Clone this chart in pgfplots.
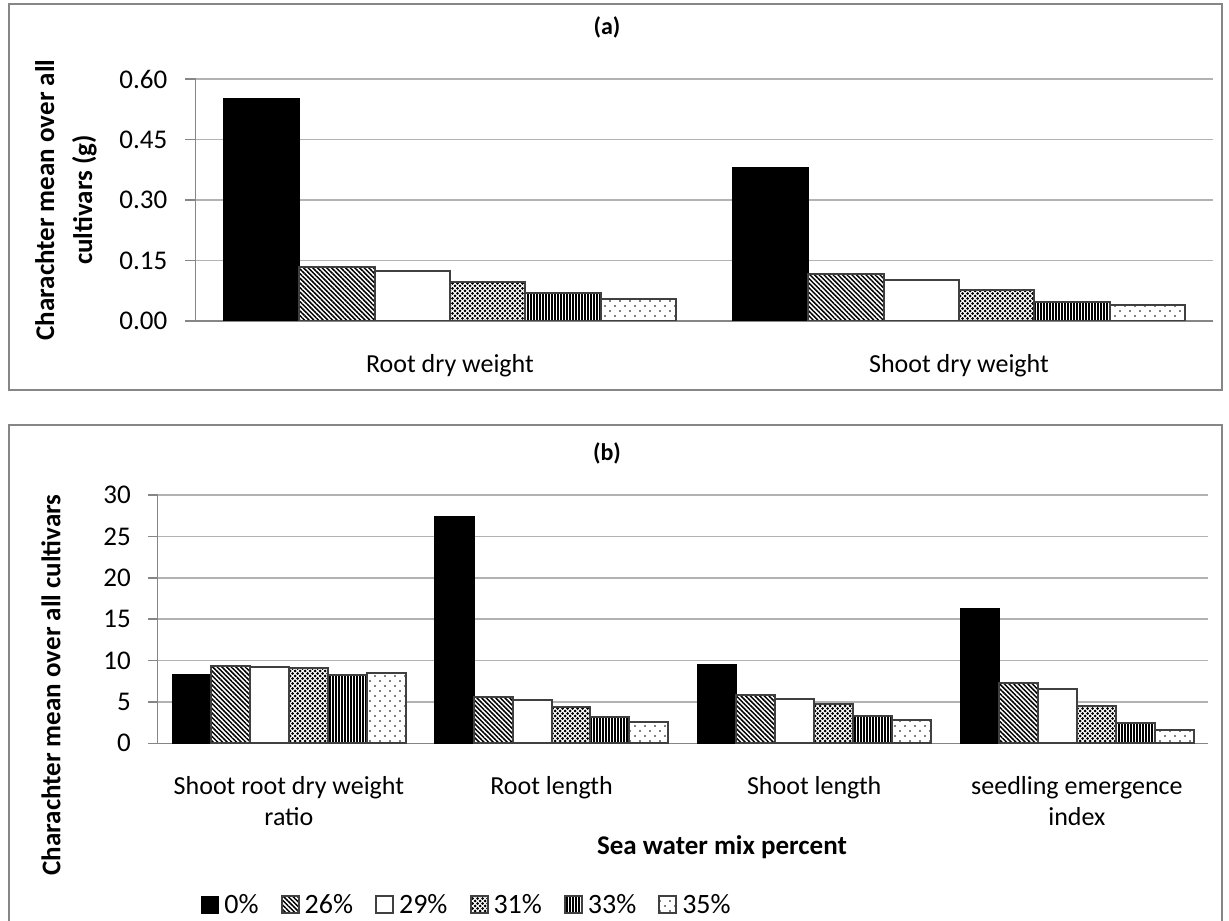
\documentclass[border=0pt]{standalone}
\usepackage{pgfplots}
\pgfplotsset{compat=1.18}
\usepackage{fontspec}
\setmainfont{Carlito}
\usetikzlibrary{patterns.meta}

\definecolor{framegray}{RGB}{134,134,134}
\definecolor{gridgray}{RGB}{178,178,178}
\definecolor{baredge}{RGB}{64,64,64}

\pgfplotsset{
  excelbar/.style={
    ybar, bar width=0.148, scale only axis, enlargelimits=false,
    axis x line*=bottom, axis y line*=left,
    axis line style={framegray, line width=1.5pt},
    ymajorgrids, grid style={gridgray, line width=1.5pt},
    tick align=outside, major tick length=10pt,
    ytick style={framegray, line width=1.5pt},
    xtick style={draw=none},
    /pgf/number format/assume math mode=true,
    yticklabel style={font=\fontsize{27}{32}\selectfont, inner sep=0pt, xshift=-18pt},
    xticklabel style={font=\fontsize{26}{31}\selectfont, align=center, anchor=north, inner sep=0pt, yshift=-23pt},
    every axis y label/.style={rotate=90, anchor=center, align=center,
      font=\bfseries\fontsize{27}{38}\selectfont},
    every axis x label/.style={anchor=center, font=\bfseries\fontsize{27}{32}\selectfont},
  },
  legbox/.style={legend image code/.code={\draw (0pt,-8.5pt) rectangle (17pt,8.5pt);}},
  s0/.style={fill=black, draw=black, line width=1.5pt, legbox},
  s1/.style={fill=white, draw=baredge, line width=2pt, legbox,
    postaction={pattern={Lines[angle=-45,distance=3.3pt,line width=1.5pt]}}},
  s2/.style={fill=white, draw=baredge, line width=2pt, legbox},
  s3/.style={fill=white, draw=baredge, line width=2pt, legbox,
    postaction={pattern={Dots[distance=5pt,radius=1.5pt]}},
    postaction={pattern={Dots[distance=5pt,radius=1.5pt,xshift=2.5pt,yshift=2.5pt]}}},
  s4/.style={fill=white, draw=baredge, line width=2pt, legbox,
    postaction={pattern={Lines[angle=90,distance=3pt,line width=1.2pt]}}},
  s5/.style={fill=white, draw=baredge, line width=2pt, legbox,
    postaction={pattern={Dots[distance=10pt,radius=0.9pt]}},
    postaction={pattern={Dots[distance=10pt,radius=0.9pt,xshift=5pt,yshift=5pt]}}},
}

\begin{document}
\begin{tikzpicture}
\useasboundingbox (0pt,0pt) rectangle (1229pt,921pt);
\fill[white] (0pt,0pt) rectangle (1229pt,921pt);
\draw[framegray, line width=1.5pt] (9pt,917pt) rectangle (1222pt,531pt);
\draw[framegray, line width=1.5pt] (9pt,-10pt) rectangle (1222pt,496pt);

% (a)
\begin{axis}[excelbar,
  at={(195.5pt,600pt)}, anchor=south west, width=1018pt, height=242pt,
  xmin=-0.5, xmax=1.5, ymin=0, ymax=0.6,
  ytick={0,0.15,0.3,0.45,0.6},
  yticklabel style={/pgf/number format/.cd, fixed, fixed zerofill, precision=2},
  xtick={0,1}, xticklabels={Root dry weight, Shoot dry weight},
  ylabel={Charachter mean over all\\cultivars (g)},
  ylabel style={at={(rel axis cs:-0.1272,0.5)}},
]
\addplot[s0, bar shift=-0.37] coordinates {(0,0.550) (1,0.379)};
\addplot[s1, bar shift=-0.222] coordinates {(0,0.135) (1,0.116)};
\addplot[s2, bar shift=-0.074] coordinates {(0,0.124) (1,0.102)};
\addplot[s3, bar shift=0.074] coordinates {(0,0.097) (1,0.078)};
\addplot[s4, bar shift=0.222] coordinates {(0,0.069) (1,0.046)};
\addplot[s5, bar shift=0.37] coordinates {(0,0.054) (1,0.040)};
\end{axis}

% (b)
\begin{axis}[excelbar,
  at={(157.6pt,177.7pt)}, anchor=south west, width=1050.6pt, height=248.3pt,
  xmin=-0.5, xmax=3.5, ymin=0, ymax=30,
  ytick={0,5,...,30},
  yticklabel style={xshift=1.3pt},
  xtick={0,1,2,3},
  xticklabels={{Shoot root dry weight\\ratio}, Root length, Shoot length, {seedling emergence\\index}},
  ylabel={Charachter mean over all cultivars},
  ylabel style={at={(rel axis cs:-0.1015,0.235)}},
  xlabel={Sea water mix percent},
  xlabel style={at={(rel axis cs:0.5372,-0.4176)}},
  legend columns=6,
  legend style={at={(rel axis cs:0.0413,-0.651)}, anchor=west, draw=none, fill=none,
    inner sep=0pt, outer sep=0pt, font=\fontsize{28}{33}\selectfont,
    column sep=3pt, /tikz/every even column/.append style={column sep=20pt}},
]
\addplot[s0, bar shift=-0.37] coordinates {(0,8.30) (1,27.40) (2,9.55) (3,16.20)};
\addplot[s1, bar shift=-0.222] coordinates {(0,9.30) (1,5.65) (2,5.80) (3,7.30)};
\addplot[s2, bar shift=-0.074] coordinates {(0,9.20) (1,5.20) (2,5.35) (3,6.60)};
\addplot[s3, bar shift=0.074] coordinates {(0,9.15) (1,4.40) (2,4.70) (3,4.55)};
\addplot[s4, bar shift=0.222] coordinates {(0,8.20) (1,3.15) (2,3.30) (3,2.40)};
\addplot[s5, bar shift=0.37] coordinates {(0,8.55) (1,2.55) (2,2.80) (3,1.57)};
\legend{0\%, 26\%, 29\%, 31\%, 33\%, 35\%}
\end{axis}

\node[font=\bfseries\fontsize{24}{29}\selectfont] at (607pt,893.5pt) {(a)};
\node[font=\bfseries\fontsize{24}{29}\selectfont] at (607pt,468pt) {(b)};
\end{tikzpicture}
\end{document}
